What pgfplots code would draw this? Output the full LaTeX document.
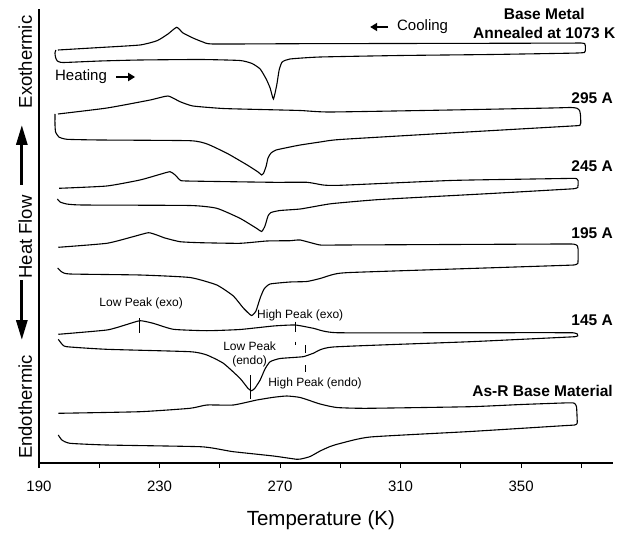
\documentclass[border=0pt]{standalone}
\usepackage{fontspec}
\setmainfont{Liberation Sans}
\usepackage{pgfplots}
\pgfplotsset{compat=1.18}
\usetikzlibrary{arrows.meta}
\pgfplotsset{dsc/.style={black, line width=1.1pt, smooth, tension=0.3, mark=none}}

\begin{document}
\begin{tikzpicture}
\begin{axis}[
  scale only axis, width=574pt, height=454pt,
  xmin=190, xmax=380.5, ymin=0, ymax=454,
  axis x line*=bottom, axis y line*=left,
  axis line style={line width=1.1pt, -},
  ytick=\empty,
  xtick={190,230,270,310,350},
  minor xtick={210,250,290,330,370},
  tick align=outside,
  major tick length=5pt, minor tick length=5pt,
  tick style={line width=1.1pt, black},
  /pgf/number format/assume math mode=true,
  xticklabel style={font=\fontsize{15}{18}\selectfont, yshift=-9pt},
  xlabel={Temperature (K)},
  xlabel style={font=\fontsize{20.5}{24}\selectfont, at={(rel axis cs:0.491,0)}, anchor=center, yshift=-57pt},
  clip=false,
]
% Base Metal annealed at 1073 K
\addplot[dsc] coordinates {
(196.3,413.0) (210.3,415.5) (223.5,418.0) (229.2,422.3) (232.8,429.0) (235.7,435.7)
(237.8,430.0) (241.1,425.0) (244.4,421.0) (247.8,419.0) (276.7,419.3) (340.0,419.7)
(366.0,419.9) (369.8,420.0) (371.1,419.4) (371.3,417.5) (371.3,412.0) (371.0,410.5)
(369.5,410.1) (366.0,409.8) (340.0,408.5) (309.9,407.5) (283.3,406.0) (273.3,404.0)
(270.7,401.0) (269.7,393.0) (268.9,378.0) (267.8,364.0) (266.7,375.0) (265.4,384.0)
(263.4,394.0) (260.7,399.5) (256.7,402.5) (243.5,403.5) (223.5,403.0) (210.3,402.0)
(198.0,400.5) (196.1,402.0) (195.5,405.5) (195.3,410.0) (195.6,413.0)
};
% 295 A
\addplot[dsc] coordinates {
(196.3,349.0) (212.6,355.0) (226.9,363.0) (232.8,367.0) (236.8,361.3) (241.1,357.0)
(251.1,354.5) (263.4,353.5) (276.7,352.5) (286.6,351.0) (326.4,353.0) (360.0,355.0)
(366.5,355.5) (368.5,354.8) (369.4,352.5) (369.7,348.0) (369.8,340.0) (369.5,337.6)
(368.0,337.2) (364.0,336.5) (326.4,330.0) (289.9,323.5) (283.3,321.0) (276.7,318.0)
(273.3,316.0) (268.7,313.0) (267.0,310.0) (266.0,305.0) (265.4,297.0) (264.5,289.5)
(263.9,288.0) (262.7,291.0) (259.1,298.0) (252.4,309.7) (245.8,319.0) (240.1,322.3)
(210.3,323.0) (199.3,323.7) (196.6,326.0) (195.5,331.0) (195.3,339.0) (195.3,349.0)
};
% 245 A
\addplot[dsc] coordinates {
(196.1,264.0) (197.0,261.0) (199.2,259.0) (204.6,258.0) (240.1,257.5) (249.0,254.7)
(256.7,244.7) (262.3,234.5) (263.9,231.5) (265.0,237.0) (266.0,247.0) (267.0,250.5)
(270.0,252.5) (276.7,254.0) (283.3,257.5) (287.6,259.5) (303.2,263.5) (340.0,269.5)
(365.0,273.8) (367.8,274.4) (368.8,275.5) (368.9,278.0) (368.9,282.5) (368.4,284.4)
(366.5,284.6) (350.0,283.8) (326.4,282.5) (289.9,277.7) (284.3,278.0) (278.9,280.7)
(267.7,280.7) (239.0,282.0) (236.8,283.0) (235.2,288.0) (233.5,291.3) (230.2,288.7)
(223.5,283.0) (212.5,277.0) (196.7,274.7)
};
% 195 A
\addplot[dsc] coordinates {
(196.2,195.0) (197.6,191.0) (200.3,189.0) (223.5,188.0) (240.1,185.5) (249.0,178.0)
(254.5,167.0) (257.8,155.0) (260.5,147.5) (262.0,152.0) (263.4,165.0) (264.7,174.0)
(266.7,179.0) (273.3,181.0) (278.9,181.5) (283.3,184.5) (287.6,188.5) (293.3,190.5)
(340.0,195.2) (365.0,197.7) (367.8,198.1) (368.8,199.5) (368.9,203.0) (368.9,214.0)
(368.6,217.5) (367.5,218.8) (364.0,219.0) (326.4,218.5) (289.9,218.0) (283.3,218.0)
(276.7,223.0) (273.3,222.3) (265.6,222.0) (256.7,219.7) (243.5,220.3) (236.8,221.3)
(231.8,225.0) (229.1,228.0) (226.3,230.3) (221.2,226.3) (212.5,219.7) (196.4,215.7)
};
% 145 A
\addplot[dsc] coordinates {
(196.4,123.7) (197.6,119.0) (199.2,116.3) (212.5,113.7) (240.1,111.3) (245.7,108.0)
(251.2,99.7) (256.7,84.7) (259.4,74.5) (260.6,72.3) (261.7,75.0) (263.4,83.0)
(265.0,94.0) (266.7,101.3) (270.0,104.5) (277.6,106.3) (281.0,109.7) (287.6,116.0)
(333.1,121.3) (364.0,125.7) (367.8,126.3) (368.8,127.2) (368.6,129.2) (367.3,130.2)
(364.0,130.3) (333.1,130.3) (288.8,130.3) (281.1,134.7) (275.0,138.0) (267.8,137.0)
(256.7,133.5) (245.7,132.3) (234.6,133.7) (227.9,139.7) (223.5,142.3) (218.6,138.0)
(212.5,133.0) (196.4,128.7)
};
% As-R Base Material
\addplot[dsc] coordinates {
(196.4,28.0) (197.6,23.0) (200.3,19.7) (212.5,18.0) (243.5,16.3) (251.2,13.0)
(254.5,11.3) (267.8,7.0) (275.6,3.7) (277.6,4.5) (280.0,6.5) (283.3,12.0)
(286.6,16.5) (289.9,19.5) (299.9,26.0) (333.1,31.5) (364.0,37.3) (367.8,38.0)
(368.6,39.5) (368.6,44.0) (368.4,56.0) (367.8,59.5) (366.0,60.2) (350.0,58.5)
(333.1,56.3) (298.8,54.7) (288.8,55.5) (283.3,59.0) (276.7,65.5) (272.2,67.0)
(267.8,65.7) (262.3,63.0) (254.5,58.0) (245.7,58.0) (240.1,54.7) (223.5,51.3)
(196.4,49.7)
};

% right-hand labels
\begin{scope}[every node/.style={font=\bfseries\fontsize{15.5}{19}\selectfont, inner sep=0pt}]
\node[align=center] at (axis cs:357.7,439.5) {Base Metal\\Annealed at 1073 K};
\node[anchor=east] at (axis cs:380.5,365) {295 A};
\node[anchor=east] at (axis cs:380.5,297) {245 A};
\node[anchor=east] at (axis cs:380.5,230) {195 A};
\node[anchor=east] at (axis cs:380.5,143) {145 A};
\node[anchor=east] at (axis cs:380.5,72) {As-R Base Material};
\end{scope}

% heating / cooling
\node[font=\fontsize{15}{18}\selectfont, anchor=west, inner sep=0pt] at (axis cs:308.8,436) {Cooling};
\draw[line width=2pt, -{Triangle[length=7pt,width=8pt]}] (axis cs:305.9,436) -- (axis cs:299.9,436);
\node[font=\fontsize{15}{18}\selectfont, anchor=west, inner sep=0pt] at (axis cs:195.3,386) {Heating};
\draw[line width=2pt, -{Triangle[length=7pt,width=8pt]}] (axis cs:215.6,386) -- (axis cs:221.9,386);

% peak annotations
\begin{scope}[every node/.style={font=\fontsize{12}{14}\selectfont, inner sep=0pt}]
\node at (axis cs:223.9,160) {Low Peak (exo)};
\node at (axis cs:276.7,148) {High Peak (exo)};
\node[align=center] at (axis cs:259.9,108.5) {Low Peak\\(endo)};
\node at (axis cs:281.6,80) {High Peak (endo)};
\end{scope}
\draw[line width=0.8pt] (axis cs:223.3,145) -- (axis cs:223.3,130);
\draw[line width=0.8pt] (axis cs:275.0,141.3) -- (axis cs:275.0,131.3);
\draw[line width=0.8pt] (axis cs:275.0,121.3) -- (axis cs:275.0,118);
\draw[line width=0.8pt] (axis cs:278.3,118) -- (axis cs:278.3,109.7);
\draw[line width=0.8pt] (axis cs:278.3,98) -- (axis cs:278.3,91.3);
\draw[line width=0.8pt] (axis cs:260.3,88) -- (axis cs:260.3,63.7);

% y label
\node[font=\fontsize{18.5}{22}\selectfont, rotate=90] at (axis cs:185.4,401) {Exothermic};
\node[font=\fontsize{18.5}{22}\selectfont, rotate=90] at (axis cs:185.4,226) {Heat Flow};
\node[font=\fontsize{18.5}{22}\selectfont, rotate=90] at (axis cs:185.4,56) {Endothermic};
\draw[line width=3pt, -{Triangle[length=20pt,width=11pt]}] (axis cs:184.3,278) -- (axis cs:184.3,338);
\draw[line width=3pt, -{Triangle[length=20pt,width=11pt]}] (axis cs:184.3,183) -- (axis cs:184.3,123);
\end{axis}
\pgfresetboundingbox
\path ([xshift=-39pt,yshift=-70pt]current axis.south west) rectangle ([xshift=20pt,yshift=9pt]current axis.north east);
\end{tikzpicture}
\end{document}
